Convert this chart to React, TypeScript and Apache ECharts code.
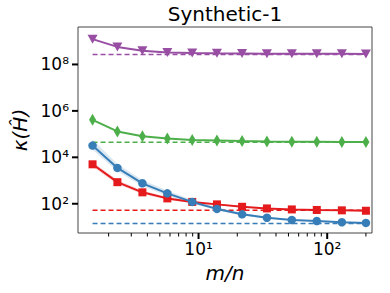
import React, { useEffect, useRef } from "react";
import * as echarts from "echarts";

const xs = [1.5, 2.34, 3.66, 5.72, 8.93, 13.9, 21.8, 34.0, 53.1, 83.0, 130, 200];

const purple = [1.23e9, 5.7e8, 3.9e8, 3.3e8, 3.1e8, 3.0e8, 2.95e8, 2.9e8, 2.9e8, 2.9e8, 2.9e8, 2.85e8];
const green = [4.1e5, 1.3e5, 8.1e4, 6.4e4, 5.6e4, 5.3e4, 5.0e4, 4.8e4, 4.7e4, 4.7e4, 4.6e4, 4.6e4];
const blue = [3.2e4, 3.5e3, 7.6e2, 2.8e2, 1.2e2, 60, 35, 25, 20, 18, 16, 15];
const blueUpper = [5.8e4, 5.2e3, 1.05e3, 3.7e2, 1.45e2, 70, 40, 27.5, 21.5, 19, 16.8, 15.6];
const blueLower = [2.1e4, 2.5e3, 5.7e2, 2.2e2, 1.0e2, 52, 31, 23, 18.8, 17, 15.3, 14.4];
const red = [5.0e3, 8.5e2, 3.1e2, 1.7e2, 1.2e2, 94, 74, 63, 57, 54, 52, 50];
const redUpper = [6.4e3, 1.05e3, 3.7e2, 1.95e2, 1.32e2, 102, 79, 66, 59, 55.5, 53.3, 51.2];
const redLower = [3.9e3, 7.0e2, 2.6e2, 1.5e2, 1.08e2, 87, 70, 60, 55, 52.5, 50.7, 48.8];

const purpleRef = 2.7e8;
const greenRef = 4.5e4;
const redRef = 53;
const blueRef = 14;

const xMajorTicks = [10, 100];
const xMinorTicks = [2, 3, 4, 5, 6, 7, 8, 9, 20, 30, 40, 50, 60, 70, 80, 90, 200];
const yMajorTicks = [1e2, 1e4, 1e6, 1e8];

const SUP: Record<string, string> = { "0": "⁰", "1": "¹", "2": "²", "3": "³", "4": "⁴", "5": "⁵", "6": "⁶", "7": "⁷", "8": "⁸", "9": "⁹" };
const sup = (n: number) => String(n).split("").map((c) => SUP[c]).join("");

const FONT = "DejaVu Sans";
const C_PURPLE = "#984ea3";
const C_GREEN = "#4daf4a";
const C_BLUE = "#377eb8";
const C_RED = "#e41a1c";

function bandSeries(upper: number[], lower: number[], color: string) {
  const data = xs.slice(0, -1).map((x, i) => [x, xs[i + 1], lower[i], upper[i], lower[i + 1], upper[i + 1]]);
  return {
    type: "custom",
    silent: true,
    data,
    renderItem: (params: any, api: any) => {
      const x0 = api.value(0), x1 = api.value(1);
      const a = api.coord([x0, api.value(2)]);
      const b = api.coord([x0, api.value(3)]);
      const c = api.coord([x1, api.value(5)]);
      const d = api.coord([x1, api.value(4)]);
      return {
        type: "polygon",
        shape: { points: [a, b, c, d] },
        style: { fill: color, opacity: 0.18, stroke: "none" },
      };
    },
    z: 1,
  };
}

function lineSeries(vals: number[], color: string, symbol: string, size: any, rotate = 0, z = 3) {
  return {
    type: "line",
    data: xs.map((x, i) => [x, vals[i]]),
    symbol,
    symbolSize: size,
    symbolRotate: rotate,
    showAllSymbol: true,
    lineStyle: { color, width: 2 },
    itemStyle: { color, borderWidth: 0 },
    z,
  };
}

function refSeries(v: number, color: string) {
  return {
    type: "line",
    data: [[xs[0], v], [xs[xs.length - 1], v]],
    symbol: "none",
    lineStyle: { color, width: 1.5, type: [5, 3] },
    z: 2,
  };
}

function tickSeries(vals: number[], axis: "x" | "y", major: boolean) {
  return {
    type: "custom",
    silent: true,
    data: vals.map((v) => [axis === "x" ? v : 10, axis === "x" ? 1e4 : v]),
    renderItem: (params: any, api: any) => {
      const p = api.coord([api.value(0), api.value(1)]);
      const cs = params.coordSys;
      const len = major ? 6 : 3.5;
      if (axis === "x") {
        const yb = cs.y + cs.height;
        return { type: "line", shape: { x1: p[0], y1: yb, x2: p[0], y2: yb + len }, style: { stroke: "#000", lineWidth: major ? 2 : 1 } };
      }
      const xl = cs.x;
      return { type: "line", shape: { x1: xl - len, y1: p[1], x2: xl, y2: p[1] }, style: { stroke: "#000", lineWidth: 2 } };
    },
    z: 5,
  };
}

export default function App() {
  const ref = useRef<HTMLDivElement>(null);
  useEffect(() => {
    if (!ref.current) return;
    const chart = echarts.init(ref.current, null, { renderer: "svg" });
    const isPow = (v: number) => Math.abs(Math.log10(v) - Math.round(Math.log10(v))) < 1e-6;
    chart.setOption({
      animation: false,
      title: {
        text: "Synthetic-1",
        left: 225,
        top: 4,
        padding: 0,
        textAlign: "center",
        textStyle: { fontFamily: FONT, fontSize: 20, fontWeight: "normal", color: "#000" },
      },
      grid: { left: 78, right: 18, top: 27, bottom: 60, show: true, borderColor: "#444", borderWidth: 1, backgroundColor: "transparent" },
      xAxis: {
        type: "log",
        logBase: 10,
        min: 1.156,
        max: 223,
        name: "m/n",
        nameLocation: "middle",
        nameGap: 30,
        nameTextStyle: { fontFamily: FONT, fontSize: 20, fontStyle: "italic", color: "#000" },
        axisLine: { show: false },
        axisTick: { show: false },
        splitLine: { show: false },
        axisLabel: {
          margin: 7,
          fontFamily: FONT,
          fontSize: 17,
          color: "#000",
          formatter: (v: number) => (isPow(v) && xMajorTicks.some((t) => Math.abs(t - v) / t < 1e-6) ? "10" + sup(Math.round(Math.log10(v))) : ""),
        },
      },
      yAxis: {
        type: "log",
        logBase: 10,
        min: 5.5,
        max: 4.1e9,
        name: "κ(Ĥ)",
        nameLocation: "middle",
        nameGap: 42,
        nameTextStyle: { fontFamily: FONT, fontSize: 20, fontStyle: "italic", color: "#000" },
        axisLine: { show: false },
        axisTick: { show: false },
        splitLine: { show: false },
        axisLabel: {
          margin: 9,
          fontFamily: FONT,
          fontSize: 17,
          color: "#000",
          formatter: (v: number) => (isPow(v) && yMajorTicks.some((t) => Math.abs(t - v) / t < 1e-6) ? "10" + sup(Math.round(Math.log10(v))) : ""),
        },
      },
      series: [
        bandSeries(redUpper, redLower, C_RED),
        bandSeries(blueUpper, blueLower, C_BLUE),
        refSeries(redRef, C_RED),
        refSeries(blueRef, C_BLUE),
        refSeries(greenRef, C_GREEN),
        refSeries(purpleRef, C_PURPLE),
        lineSeries(red, C_RED, "rect", 8, 0, 3),
        lineSeries(green, C_GREEN, "diamond", [7, 12], 0, 3),
        lineSeries(blue, C_BLUE, "circle", 8.5, 0, 4),
        lineSeries(purple, C_PURPLE, "triangle", [10, 9], 180, 3),
        tickSeries(xMajorTicks, "x", true),
        tickSeries(xMinorTicks, "x", false),
        tickSeries(yMajorTicks, "y", true),
      ],
    });
    return () => chart.dispose();
  }, []);
  return <div ref={ref} style={{ position: "absolute", left: 0, top: 0, width: 390, height: 293 }} />;
}
